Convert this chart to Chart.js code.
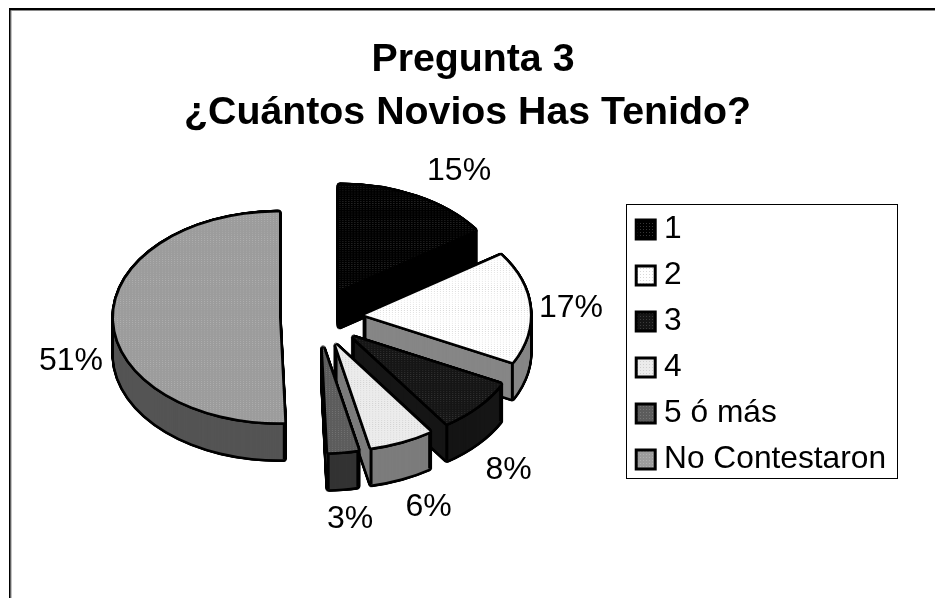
<!DOCTYPE html>
<html>
<head>
<meta charset="utf-8">
<style>html,body{margin:0;padding:0;background:#fff}canvas{display:block}</style>
<script src="https://cdn.jsdelivr.net/npm/chart.js@4/dist/chart.umd.min.js"></script>
</head>
<body>
<canvas id="c" width="935" height="598"></canvas>
<script>
const titleLines = [' Pregunta 3', '¿Cuántos Novios Has Tenido?'];
const categories = ['1', '2', '3', '4', '5 ó más', 'No Contestaron'];
const values = [15.4, 17, 8, 6.2, 2.89, 50.51];
const total = values.reduce((a, b) => a + b, 0);

const FONT = '"Liberation Sans", Arial, sans-serif';
const SQUASH = 0.636, DEPTH = 37, EDGE = 2.7;
const CENTER = {x: 317, y: 317};
const explode = [48, 48, 48, 48, 48, 38];
const drawOrder = [0, 1, 5, 2, 3, 4];
const topBase = ['#000000', '#ffffff', '#151515', '#ececec', '#5c5c5c', '#9c9c9c'];
const topDot = ['#383838', '#d8d8d8', '#3c3c3c', '#cfcfcf', '#767676', '#b0b0b0'];
const sideColor = ['#000000', '#868686', '#151515', '#7c7c7c', '#333333', '#545454'];
const labelNudge = [[43, -26], [41.5, 1], [31, 64], [27, 66], [7, 68], [-43, 42]];

function tile(base, dot) {
  const t = document.createElement('canvas');
  t.width = t.height = 3;
  const g = t.getContext('2d');
  g.fillStyle = base; g.fillRect(0, 0, 3, 3);
  g.fillStyle = dot; g.fillRect(1, 1, 1, 1);
  const p = g.createPattern(t, 'repeat');
  return p;
}
const fills = topBase.map((b, i) => tile(b, topDot[i]));

const rings = [];
for (let k = 0; k < 14; k++) rings.push([Math.cos(k * Math.PI / 7) * EDGE, Math.sin(k * Math.PI / 7) * EDGE]);

function stamp(ctx, arc, i, color, dx, dy) {
  const saved = arc.options;
  const mid = (arc.startAngle + arc.endAngle) / 2;
  arc.options = Object.assign({}, saved, {backgroundColor: color, borderWidth: 0, offset: 0});
  ctx.save();
  ctx.translate(CENTER.x + dx, CENTER.y + dy);
  ctx.scale(1, SQUASH);
  ctx.translate(Math.cos(mid) * explode[i] - arc.x, Math.sin(mid) * explode[i] - arc.y);
  arc.draw(ctx);
  ctx.restore();
  arc.options = saved;
}

function screenPoint(arc, i, angle, r) {
  const mid = (arc.startAngle + arc.endAngle) / 2;
  return {
    x: CENTER.x + Math.cos(mid) * explode[i] + Math.cos(angle) * r,
    y: CENTER.y + (Math.sin(mid) * explode[i] + Math.sin(angle) * r) * SQUASH
  };
}

const pie3d = {
  id: 'pie3d',
  beforeDatasetDraw(chart) {
    const ctx = chart.ctx;
    const arcs = chart.getDatasetMeta(0).data;
    drawOrder.forEach(i => {
      const arc = arcs[i];
      for (let d = 0; d <= DEPTH; d++) rings.forEach(o => stamp(ctx, arc, i, '#000', o[0], o[1] + d));
      for (let d = DEPTH; d >= 0; d--) stamp(ctx, arc, i, sideColor[i], 0, d);
      const R = arc.outerRadius;
      [screenPoint(arc, i, arc.startAngle, 0), screenPoint(arc, i, arc.startAngle, R), screenPoint(arc, i, arc.endAngle, R)].forEach(p => {
        ctx.save();
        ctx.strokeStyle = '#000'; ctx.lineWidth = 3;
        ctx.beginPath(); ctx.moveTo(p.x, p.y); ctx.lineTo(p.x, p.y + DEPTH); ctx.stroke();
        ctx.restore();
      });
      rings.forEach(o => stamp(ctx, arc, i, '#000', o[0], o[1]));
      stamp(ctx, arc, i, fills[i], 0, 0);
    });
    return false;
  },
  afterDatasetsDraw(chart) {
    const ctx = chart.ctx;
    const arcs = chart.getDatasetMeta(0).data;
    ctx.save();
    ctx.fillStyle = '#000';
    ctx.font = '32px ' + FONT;
    ctx.textAlign = 'center';
    ctx.textBaseline = 'middle';
    arcs.forEach((arc, i) => {
      const mid = (arc.startAngle + arc.endAngle) / 2;
      const p = screenPoint(arc, i, mid, arc.outerRadius);
      ctx.fillText(Math.round(values[i] / total * 100) + '%', p.x + labelNudge[i][0], p.y + labelNudge[i][1]);
    });
    ctx.restore();
  },
  beforeDraw(chart) {
    const ctx = chart.ctx;
    ctx.save();
    ctx.fillStyle = '#fff'; ctx.fillRect(0, 0, 935, 598);
    ctx.fillStyle = '#8a8a8a';
    ctx.fillRect(9, 10, 926, 1); ctx.fillRect(10.5, 8, 1, 590);
    ctx.fillStyle = '#000';
    ctx.fillRect(9, 8, 926, 2); ctx.fillRect(9, 8, 1.5, 590);
    ctx.restore();
  },
  afterDraw(chart) {
    const ctx = chart.ctx;
    ctx.save();
    ctx.strokeStyle = '#000'; ctx.lineWidth = 1;
    ctx.strokeRect(626.5, 204.5, 271, 274);
    ctx.restore();
  }
};

new Chart(document.getElementById('c'), {
  type: 'pie',
  data: {
    labels: categories,
    datasets: [{
      data: values,
      backgroundColor: fills,
      borderColor: '#000',
      borderWidth: 3,
      radius: 165
    }]
  },
  options: {
    responsive: false,
    animation: false,
    events: [],
    layout: {padding: {left: 39, right: 39, top: 0, bottom: 53.5}},
    plugins: {
      tooltip: {enabled: false},
      title: {
        display: true,
        text: titleLines,
        color: '#000',
        font: {family: FONT, size: 39.3, weight: 'bold', lineHeight: 1.349},
        padding: {top: 33.5, bottom: 5}
      },
      legend: {
        display: true,
        position: 'right',
        fullSize: false,
        labels: {
          color: '#000',
          font: {family: FONT, size: 31.7, lineHeight: 1},
          usePointStyle: true,
          pointStyle: 'rect',
          boxWidth: 5,
          boxHeight: 19,
          padding: 14.3
        }
      }
    }
  },
  plugins: [pie3d]
});
</script>
</body>
</html>
